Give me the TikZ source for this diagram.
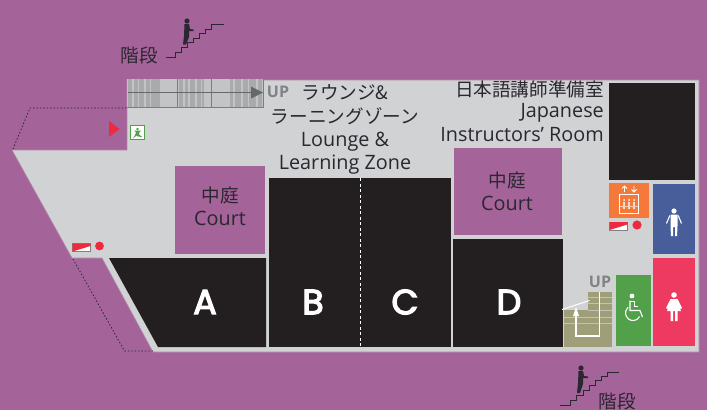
\documentclass[tikz,border=0pt]{standalone}
\usepackage{fontspec}
\setmainfont{Open Sans}
\newfontfamily\cjk{Noto Sans CJK JP}
\newfontfamily\letterfont[FakeBold=3.5]{Poppins}
\definecolor{bgp}{HTML}{A46399}
\definecolor{floorg}{HTML}{D0D2D3}
\definecolor{blk}{HTML}{231F20}
\definecolor{txt}{HTML}{2B2730}
\definecolor{redm}{HTML}{EE2A3F}
\definecolor{orangem}{HTML}{F5793A}
\definecolor{bluem}{HTML}{475E9B}
\definecolor{pinkm}{HTML}{EE3A60}
\definecolor{greenm}{HTML}{52A04A}
\definecolor{tanm}{HTML}{9E9E78}
\definecolor{upg}{HTML}{808285}
\definecolor{stairbase}{HTML}{C3C4C5}
\definecolor{stairbar}{HTML}{A9AAAC}
\tikzset{
 room/.style={fill=blk,draw=none},
 court/.style={fill=bgp,draw=none},
 lbl/.style={align=center,text=txt,font=\fontsize{19.8}{23}\selectfont,inner sep=0pt},
 jp/.style={align=center,text=txt,font=\fontsize{18.6}{24}\cjk,inner sep=0pt},
 big/.style={text=white,font=\fontsize{35}{35}\letterfont,inner sep=0pt},
 uplbl/.style={text=upg,font=\fontsize{16}{16}\selectfont\bfseries,inner sep=0pt},
 stairline/.style={draw=txt,line width=1pt},
 dots/.style={draw=txt,line width=.8pt,dash pattern=on 1.4pt off 2pt},
 whitefig/.style={fill=white,draw=none},
 wline/.style={draw=white,line width=1.1pt}
}
\begin{document}
\begin{tikzpicture}[x=1pt,y=-1pt]
\fill[bgp] (0,0) rectangle (707,410);
\useasboundingbox (0,0) rectangle (707,410);
% floor
\fill[floorg,draw=bgp!70!floorg,line width=.6pt] (12,150) -- (127,150) -- (127,80) -- (699,80) -- (699,352) -- (153,352) -- (102,258) -- (72,258) -- cycle;
% dotted
\coordinate (d1) at (13,149); \coordinate (d2) at (30,108); \coordinate (d3) at (126,108);
\draw[dots] (d1) -- (d2) -- (d3);
\coordinate (d4) at (73,259); \coordinate (d5) at (124.5,351); \coordinate (d6) at (153,351);
\draw[dots] (d4) -- (d5) -- (d6);
% top stair
\fill[stairbase] (127,79) rectangle (263,107);
\foreach \x/\w in {128/4,133.5/4,139/5,145.5/4,151/9,179/4,184.5/3.5,190/5,196.5/4,202/2,230/3,235/6,242.5/5,249/7,257.5/4.5}
  \fill[stairbar] (\x,79) rectangle ++(\w,28);
\draw[bgp,line width=.8pt] (127,107.5) -- (263,107.5) -- (263,79) (177.5,79) -- (177.5,107) (211.5,79) -- (211.5,107);
\draw[upg!80!black,line width=.8pt] (128,92.5) -- (252,92.5);
\fill[upg!80!black] (251,86.5) -- (263,92.5) -- (251,98.5) -- cycle;
\node[uplbl] (up1) at (278,92) {UP};
% rooms
\fill[room] (109,258) -- (266,258) -- (266,347) -- (158,347) -- cycle;
\fill[room] (269,178) rectangle (451,347);
\fill[room] (453,239) rectangle (563,347);
\fill[room] (609,83) rectangle (695,180);
\draw[white,line width=.8pt,dash pattern=on 3pt off 2.5pt] (360,178) -- (360,347);
\fill[court] (175,166) rectangle (265,254);
\fill[court] (454,148) rectangle (562,235);
\fill[orangem] (609,183) rectangle (649,218);
\fill[bluem] (653,184) rectangle (695,254);
\fill[pinkm] (653,258) rectangle (695,346);
\fill[greenm] (616,275) rectangle (651,346);
% labels
\node[big] (A) at (205,302) {A};
\node[big] (B) at (313,302) {B};
\node[big] (C) at (405,302) {C};
\node[big] (D) at (509,302) {D};
\node[lbl] (court1) at (220,206) {{\cjk\fontsize{18.6}{20}\selectfont 中庭}\\Court};
\node[lbl] (court2) at (507,191) {{\cjk\fontsize{18.6}{20}\selectfont 中庭}\\Court};
\node[jp] (lj) at (345,105) {ラウンジ\&\\ラーニングゾーン};
\node[lbl] (le) at (345,153) {Lounge \&\\Learning Zone};
\node[jp,anchor=east] (ir) at (604,89) {日本語講師準備室};
\node[lbl,anchor=east] (ie1) at (604,113) {Japanese};
\node[lbl,anchor=east] (ie2) at (604,135) {Instructors’ Room};
\node[jp] (k1) at (139.5,55) {階段};
\node[jp] (k2) at (617,401) {階段};
% stairs top
\draw[stairline] (166,57) -- (175,57) -- (175,52) -- (181,52) -- (181,47) -- (187,47) -- (187,42) -- (193,42) -- (193,38) -- (199,38) -- (199,33) -- (205,33) -- (205,29) -- (211,29) -- (211,24) -- (224,24);
\fill[txt] (187,21) circle (2.6);
\fill[txt] (184.5,24) -- (189,24) -- (190,29) -- (193.5,29.5) -- (193.5,31) -- (189,31) -- (189,37) -- (186,44.5) -- (183,44.5) -- (184,36) -- cycle;
% stairs bottom
\draw[stairline] (560,405) -- (570,405) -- (570,400) -- (576,400) -- (576,395) -- (583,395) -- (583,390) -- (589,390) -- (589,385) -- (595,385) -- (595,380) -- (601,380) -- (601,376) -- (607,376) -- (607,372) -- (619,372);
\fill[txt] (581,368) circle (2.6);
\fill[txt] (578.5,371) -- (583,371) -- (584,376) -- (588,376.5) -- (588,378) -- (583,378) -- (583,384) -- (580,393) -- (577,393) -- (578,383) -- cycle;
% red arrow, exit
\fill[redm] (109,121) -- (119.5,129) -- (109,137) -- cycle;
\fill[white,draw=greenm,line width=.9pt] (130.5,125.5) rectangle (144.5,139.5);
\fill[greenm] (137.5,129) circle (1.3);
\fill[greenm] (134,130.5) -- (141,130.5) -- (139,133) -- (139.5,135) -- (142.5,137) -- (138,136.5) -- (136.5,135.5) -- (133,138.5) -- (135.5,134) -- (135.8,132) -- cycle;
% small signs
\newcommand{\sign}[2]{\fill[white,draw=gray,line width=.8pt] (#1,#2) rectangle ++(18,8);
 \fill[redm] (#1,#2) -- ++(18,0) -- ++(0,2.5) -- ++(-18,5.5) -- cycle;}
\sign{72.5}{243.5}
\fill[redm] (99.5,246) circle (4.4);
\sign{609.5}{222}
\fill[redm] (637,225) circle (4.6);
% elevator
\draw[wline] (619.5,194.5) rectangle (638.5,213.5);
\draw[wline,line width=.8pt] (624.5,192) -- (624.5,186) (622,188.5) -- (624.5,186) -- (627,188.5) (634,186) -- (634,192) (631.5,189.5) -- (634,192) -- (636.5,189.5);
\foreach \x in {624,629,634}{\fill[white] (\x,200) circle (1); \fill[white!75!orangem] (\x-1.2,201.5) rectangle (\x+1.2,209);}
\draw[white!60!orangem,line width=.5pt] (620,206) -- (638,206);
% man
\fill[whitefig] (674,211) circle (2.6);
\fill[whitefig] (670.5,214.5) -- (677.5,214.5) -- (677.5,226) -- (677,236) -- (675,236) -- (675,227) -- (673,227) -- (673,236) -- (671,236) -- (670.5,226) -- cycle;
\draw[white,line width=1.1pt] (669.8,215.5) -- (666.5,223.5) (678.2,215.5) -- (681.5,223.5);
% woman
\fill[whitefig] (674,295) circle (2.8);
\fill[whitefig] (670.5,299) -- (677.5,299) -- (682,308) -- (680.5,309) -- (678,304.5) -- (681,311) -- (677.5,311) -- (677.5,321) -- (675,321) -- (675,311) -- (673,311) -- (673,321) -- (670.5,321) -- (670.5,311) -- (667,311) -- (670,304.5) -- (667.5,309) -- (666,308) -- cycle;
% wheelchair
\fill[whitefig] (632,296) circle (2.4);
\draw[wline] (630,300.5) -- (630,310.5) -- (640,310.5) -- (642.5,317);
\draw[wline,line width=.8pt] (630,301) -- (634,301) -- (634,306) -- (638,306);
\draw[wline] plot[smooth] coordinates {(628.2,307.3) (625.8,311) (626,315.5) (629,319.4) (633,320.5) (637,319.4) (639.5,316.5)};
% UP stair box
\fill[tanm] (564,310) rectangle (612,347);
\fill[tanm] (588,292) rectangle (612,310);
\foreach \y in {297,303,310} \draw[floorg!70!tanm,line width=.6pt] (588,\y) -- (612,\y);
\foreach \y in {317,323} \draw[floorg!70!tanm,line width=.6pt] (564,\y) -- (612,\y);
\draw[wline] (576,314) -- (576,336) -- (599.5,336) -- (599.5,292);
\fill[white] (573,316) -- (576,307) -- (579,316) -- cycle;
\draw[white,line width=1pt] (562,309.5) -- (589.5,300.5);
\node[uplbl] (up2) at (600,282) {UP};
\end{tikzpicture}
\end{document}
